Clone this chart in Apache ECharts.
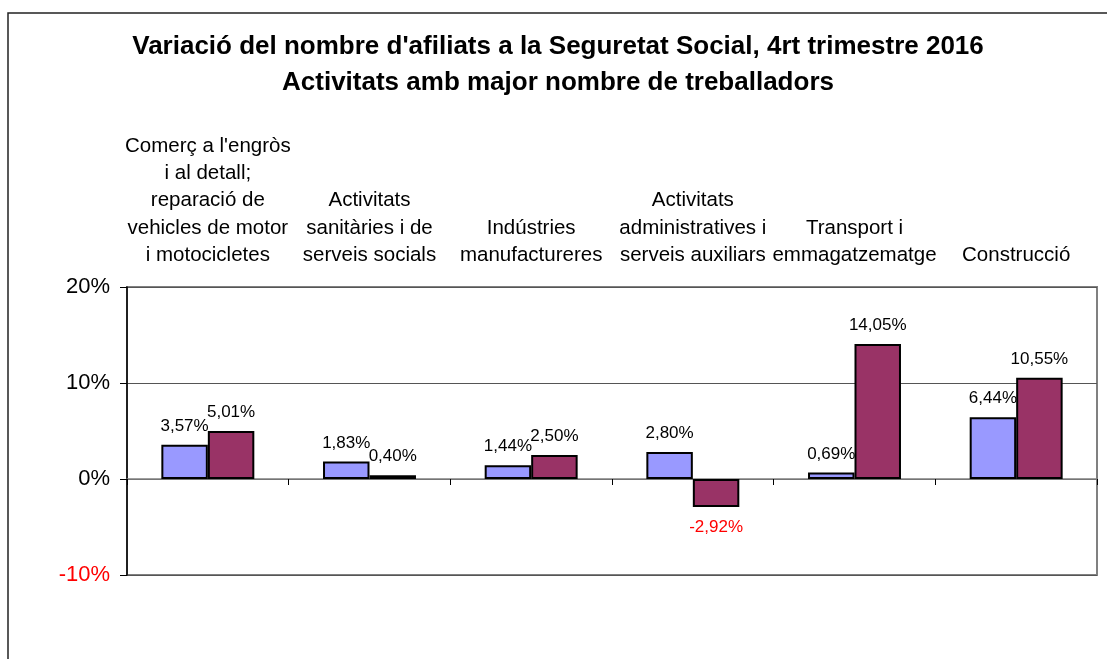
<!DOCTYPE html>
<html>
<head>
<meta charset="utf-8">
<script src="https://cdn.jsdelivr.net/npm/echarts@6/dist/echarts.min.js"></script>
<style>html,body{margin:0;padding:0;background:#fff}#c{width:1107px;height:659px}</style>
</head>
<body>
<div id="c"></div>
<script>
var titleLines = ["Variació del nombre d'afiliats a la Seguretat Social, 4rt trimestre 2016", "Activitats amb major nombre de treballadors"];
var categories = [
  "Comerç a l'engròs\ni al detall;\nreparació de\nvehicles de motor\ni motocicletes",
  "Activitats\nsanitàries i de\nserveis socials",
  "Indústries\nmanufactureres",
  "Activitats\nadministratives i\nserveis auxiliars",
  "Transport i\nemmagatzematge",
  "Construcció"
];
var seriesA = [3.57, 1.83, 1.44, 2.80, 0.69, 6.44];
var seriesB = [5.01, 0.40, 2.50, -2.92, 14.05, 10.55];
var yTicks = { min: -10, max: 20, interval: 10 };

var FONT = "'Liberation Sans', Arial, sans-serif";
function fmt(v) { return v.toFixed(2).replace('.', ',') + '%'; }
function mk(arr) {
  return arr.map(function (v) {
    return v < 0
      ? { value: v, label: { position: 'bottom', color: '#ff0000', distance: 12 } }
      : { value: v };
  });
}

var chart = echarts.init(document.getElementById('c'));
chart.setOption({
  animation: false,
  backgroundColor: '#ffffff',
  graphic: [
    { type: 'rect', shape: { x: 8, y: 13, width: 1200, height: 700 }, style: { fill: 'none', stroke: '#222', lineWidth: 1.5 }, z: -1 },
    { type: 'text', x: 558, y: 47, style: { text: titleLines[0], font: 'bold 26px ' + FONT, fill: '#000', textAlign: 'center', textVerticalAlign: 'middle' } },
    { type: 'text', x: 558, y: 83, style: { text: titleLines[1], font: 'bold 26px ' + FONT, fill: '#000', textAlign: 'center', textVerticalAlign: 'middle' } }
  ],
  grid: { left: 127, right: 10, top: 287, bottom: 84, show: true, borderColor: '#808080', borderWidth: 2, backgroundColor: 'transparent' },
  xAxis: [
    {
      type: 'category', data: categories, position: 'top',
      axisLine: { show: false, onZero: false }, axisTick: { show: false }, splitLine: { show: false },
      axisLabel: { interval: 0, hideOverlap: false, fontFamily: FONT, fontSize: 20.5, color: '#000', lineHeight: 27.3, margin: 18 }
    },
    {
      type: 'category', data: categories, position: 'bottom',
      axisLine: { show: true, onZero: true, lineStyle: { color: '#808080', width: 1.5 } },
      axisTick: { show: true, length: 6, lineStyle: { color: '#000', width: 1 } },
      axisLabel: { show: false }, splitLine: { show: false }
    }
  ],
  yAxis: {
    type: 'value', min: yTicks.min, max: yTicks.max, interval: yTicks.interval,
    axisLine: { show: true, lineStyle: { color: '#000', width: 1.5 } },
    axisTick: { show: true, length: 7, lineStyle: { color: '#000' } },
    splitLine: { show: true, lineStyle: { color: '#555', width: 1 } },
    axisLabel: {
      fontFamily: FONT, fontSize: 22, margin: 17,
      formatter: function (v) { return v + '%'; },
      color: function (v) { return Number(v) < 0 ? '#ff0000' : '#000'; }
    }
  },
  series: [
    {
      type: 'bar', name: 'A', xAxisIndex: 1, data: mk(seriesA), barGap: '0%', barCategoryGap: '42.5%',
      itemStyle: { color: '#9999ff', borderColor: '#000', borderWidth: 2 },
      label: { show: true, position: 'top', distance: 10, fontFamily: FONT, fontSize: 17, color: '#000', formatter: function (p) { return fmt(p.value); } }
    },
    {
      type: 'bar', name: 'B', xAxisIndex: 1, data: mk(seriesB), barGap: '0%', barCategoryGap: '42.5%',
      itemStyle: { color: '#993366', borderColor: '#000', borderWidth: 2 },
      label: { show: true, position: 'top', distance: 10, fontFamily: FONT, fontSize: 17, color: '#000', formatter: function (p) { return fmt(p.value); } }
    }
  ]
});
</script>
</body>
</html>
